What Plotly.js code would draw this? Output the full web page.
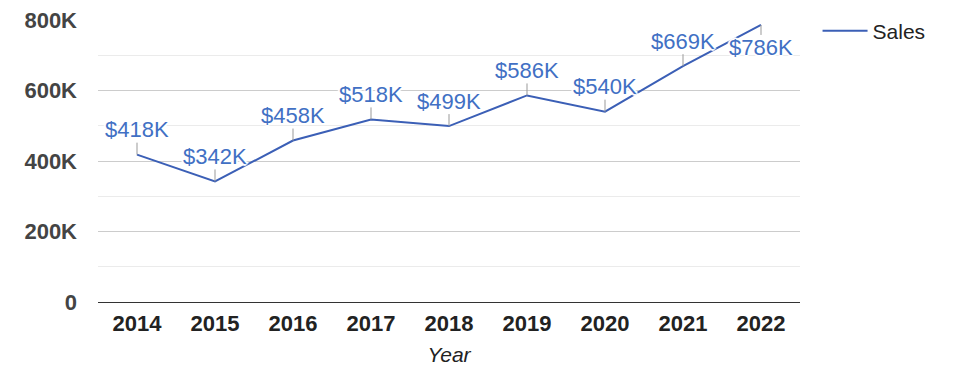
<!DOCTYPE html>
<html>
<head>
<meta charset="utf-8">
<script src="https://cdn.plot.ly/plotly-3.0.1.min.js"></script>
<style>html,body{margin:0;padding:0;background:#fff;}#chart{width:975px;height:378px;}</style>
</head>
<body>
<div id="chart"></div>
<script>
var years = ['2014','2015','2016','2017','2018','2019','2020','2021','2022'];
var sales = [418000, 342000, 458000, 518000, 499000, 586000, 540000, 669000, 786000];
var salesLabels = ['$418K','$342K','$458K','$518K','$499K','$586K','$540K','$669K','$786K'];
var labelOffsets = [-25, -25, -25, -25, -25, -25, -25, -25, 23];
var yTickVals = [0, 200000, 400000, 600000, 800000];
var yTickText = ['0', '200K', '400K', '600K', '800K'];
var seriesName = 'Sales';
var xTitle = 'Year';

var FONT = 'Arial, "Liberation Sans", sans-serif';
var LINE = '#3b5fb6';
var TEXT = '#4170c4';
var halo = '2px 0 1px #fff, -2px 0 1px #fff, 0 2px 1px #fff, 0 -2px 1px #fff, 1px 1px 1px #fff, -1px -1px 1px #fff, 1px -1px 1px #fff, -1px 1px 1px #fff';

var annotations = years.map(function (y, i) {
  return {
    x: i, y: sales[i], xref: 'x', yref: 'y',
    text: salesLabels[i],
    showarrow: true, arrowhead: 0, arrowwidth: 1, arrowcolor: '#999999',
    ax: 0, ay: labelOffsets[i],
    font: {family: FONT, size: 22, color: TEXT, shadow: halo},
    borderpad: 0
  };
});

var trace = {
  x: years, y: sales, type: 'scatter', mode: 'lines', name: seriesName,
  line: {color: LINE, width: 2},
  hoverinfo: 'skip'
};

var layout = {
  width: 975, height: 378,
  margin: {l: 98, r: 175, t: 19, b: 76},
  paper_bgcolor: '#fff', plot_bgcolor: '#fff',
  font: {family: FONT, color: '#222'},
  showlegend: true,
  legend: {x: 1.025, y: 1.03, xanchor: 'left', yanchor: 'top', itemwidth: 45, font: {size: 21, color: '#222'}, bgcolor: 'rgba(0,0,0,0)'},
  xaxis: {
    type: 'category', range: [-0.5, 8.5],
    showgrid: false, zeroline: false, showline: false,
    tickfont: {size: 22, color: '#222', weight: 'bold'},
    ticks: '', ticklabelstandoff: 6,
    title: {text: xTitle, font: {size: 21, color: '#222', style: 'italic'}, standoff: 12},
    fixedrange: true
  },
  yaxis: {
    range: [0, 800000],
    tickvals: yTickVals, ticktext: yTickText,
    showgrid: true, gridcolor: '#cccccc', gridwidth: 1,
    minor: {dtick: 100000, showgrid: true, gridcolor: '#ebebeb', gridwidth: 1},
    zeroline: true, zerolinecolor: '#333333', zerolinewidth: 1,
    showline: false, ticks: '',
    tickfont: {size: 22, color: '#444', weight: 'bold'},
    ticklabelstandoff: 20,
    fixedrange: true
  },
  annotations: annotations
};

Plotly.newPlot('chart', [trace], layout, {staticPlot: true, displayModeBar: false});
</script>
</body>
</html>
